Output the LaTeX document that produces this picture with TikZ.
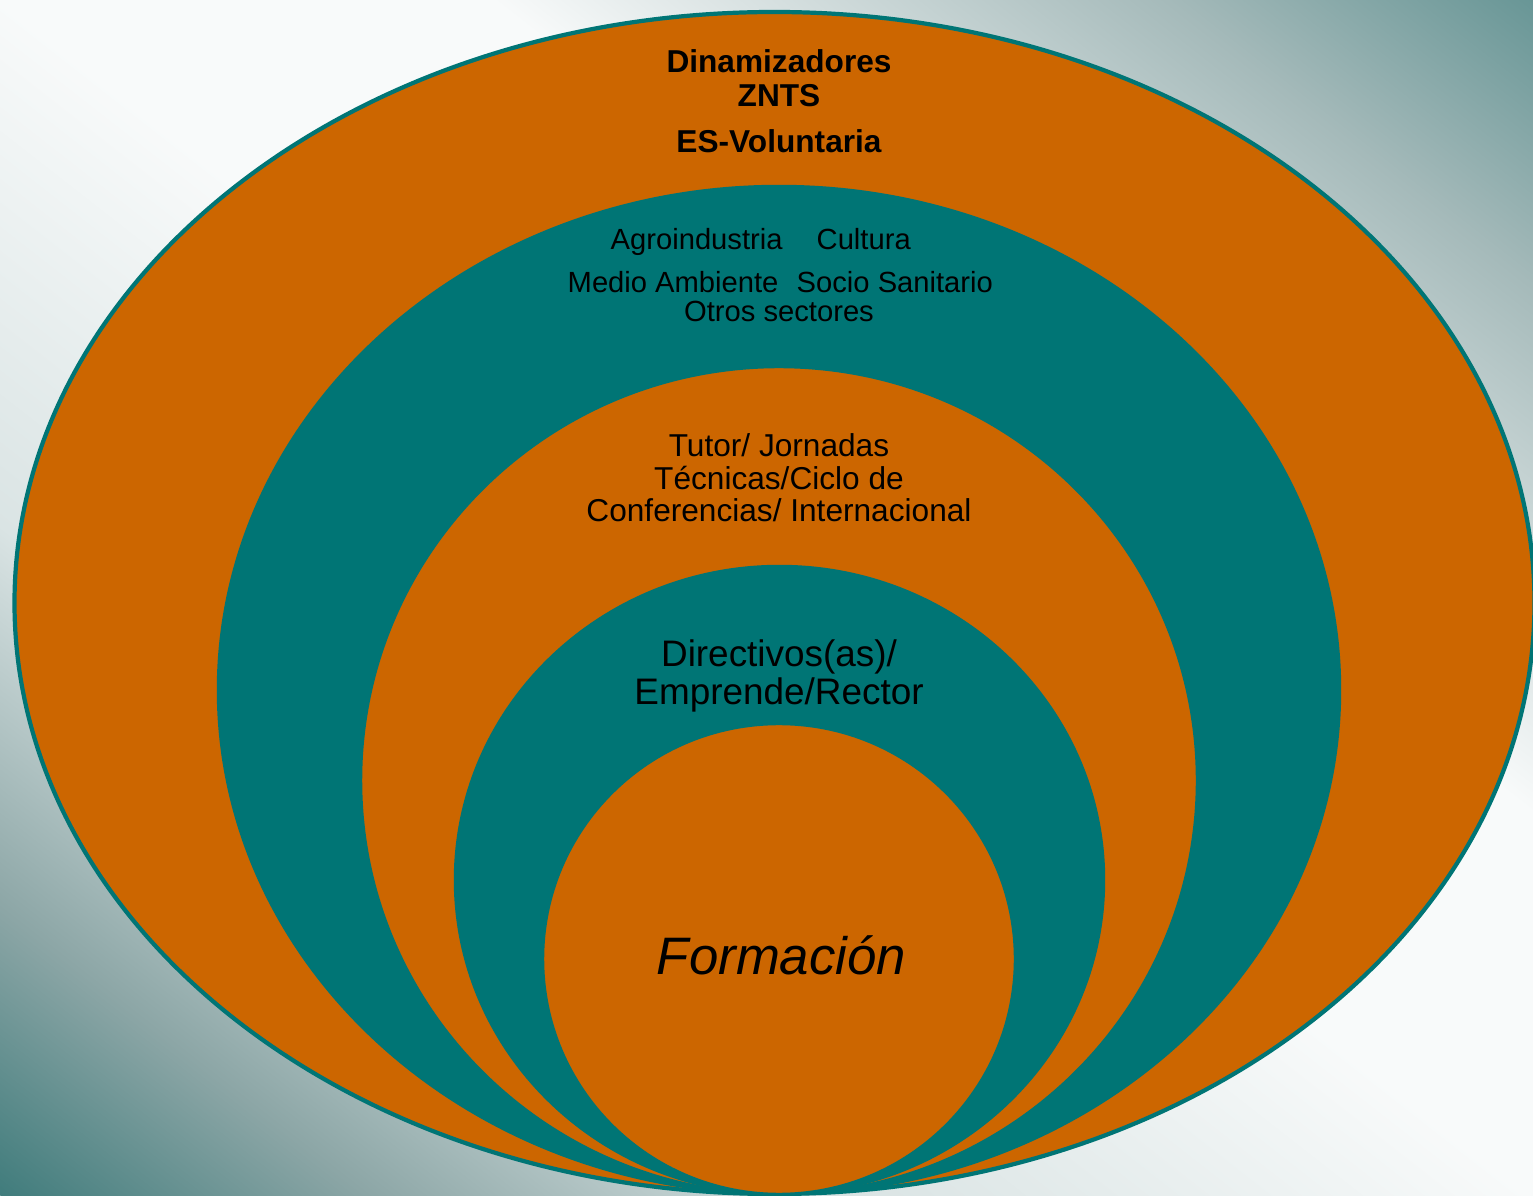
\documentclass[tikz,border=0pt]{standalone}
\usepackage{fontspec}
\setmainfont{Liberation Sans}

\definecolor{naranja}{RGB}{204,102,0}
\definecolor{verde}{RGB}{0,117,117}
\definecolor{fondoA}{RGB}{64,124,124}
\definecolor{fondoB}{RGB}{140,166,166}
\definecolor{fondoC}{RGB}{218,228,228}
\definecolor{fondoD}{RGB}{248,250,250}
\definecolor{fondoE}{RGB}{165,186,186}
\definecolor{fondoF}{RGB}{104,150,150}

\pgfdeclareverticalshading{fondo}{100bp}{color(0bp)=(fondoA); color(25bp)=(fondoA);
  color(31bp)=(fondoB); color(39bp)=(fondoC); color(50bp)=(fondoD);
  color(58bp)=(fondoD); color(69bp)=(fondoE); color(75bp)=(fondoF); color(100bp)=(fondoF)}

\begin{document}
\begin{tikzpicture}[txt/.style={inner sep=0pt, anchor=base},
    sector/.style={txt, font=\fontsize{8.3}{9}\selectfont},
    capa/.style={txt, font=\fontsize{9}{10}\selectfont}]
        \useasboundingbox (0,0) rectangle (15.33,11.95);
        % fondo en diagonal
        \begin{scope}[transform canvas={rotate around={-38:(7.665,5.975)}}]
          \shade[shading=fondo] (-2.135,-3.455) rectangle (17.465,15.405);
        \end{scope}

        % anillos, de fuera a dentro
        \draw[fill=naranja, draw=verde, line width=1.2pt] (7.745,5.92) ellipse (7.60 and 5.91);
        \foreach \c/\x/\y/\rx/\ry in {verde/7.79/5.05/5.61/5.04,
          naranja/7.79/4.145/4.18/4.135, verde/7.795/3.15/3.245/3.14,
          naranja/7.79/2.36/2.36/2.35}
          \draw[fill=\c, draw=verde, line width=0.7pt] (\x,\y) ellipse [x radius=\rx, y radius=\ry];

        % textos
        \node[capa, font=\bfseries\fontsize{9}{10}\selectfont] (dinam) at (7.79,11.22) {Dinamizadores};
        \node[capa, font=\bfseries\fontsize{9}{10}\selectfont] (znts) at (7.79,10.88) {ZNTS};
        \node[capa, font=\bfseries\fontsize{9}{10}\selectfont] (volunt) at (7.79,10.42) {ES-Voluntaria};

        \node[sector, anchor=base west] (agro) at (6.10,9.45) {Agroindustria};
        \node[sector, anchor=base west] (cultura) at (8.16,9.45) {Cultura};
        \node[sector, anchor=base west] (medio) at (5.67,9.02) {Medio Ambiente};
        \node[sector, anchor=base west] (socio) at (7.96,9.02) {Socio Sanitario};
        \node[sector] (otros) at (7.79,8.73) {Otros sectores};

        \node[capa] (tutor) at (7.79,7.38) {Tutor/ Jornadas};
        \node[capa] (tecnicas) at (7.79,7.05) {Técnicas/Ciclo de};
        \node[capa] (confer) at (7.79,6.73) {Conferencias/ Internacional};

        \node[txt, font=\fontsize{10.5}{12}\selectfont] (direct) at (7.79,5.28) {Directivos(as)/};
        \node[txt, font=\fontsize{10.5}{12}\selectfont] (emprende) at (7.79,4.90) {Emprende/Rector};

        \node[txt, font=\itshape\fontsize{15}{18}\selectfont] (formacion) at (7.815,2.20) {Formación};
      \end{tikzpicture}
\end{document}
